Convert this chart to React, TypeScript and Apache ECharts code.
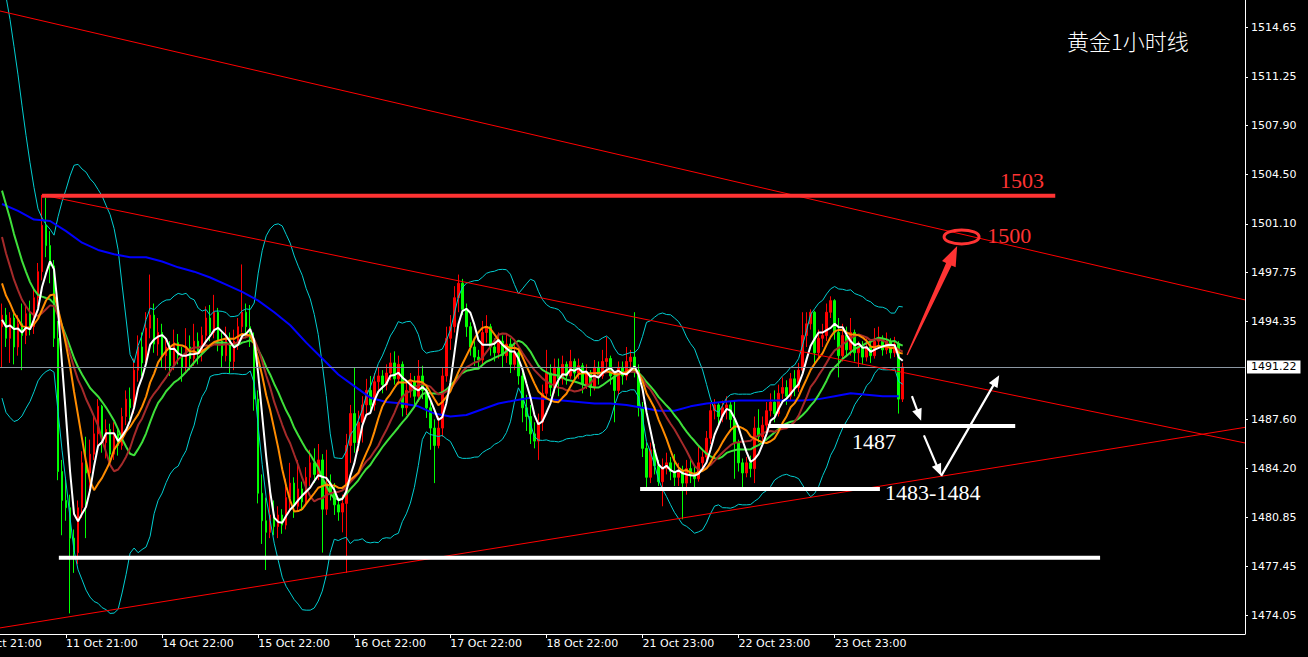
import React, { useEffect, useRef } from 'react';
import * as echarts from 'echarts';

// ---- Data (hourly XAUUSD bars) ----
// closes of the hours just before the visible window (only feed the moving averages)
const warmupCloses = [
  1512.4, 1513.8, 1514.2, 1512.6, 1512.0,
  1510.0, 1508.2, 1506.4, 1505.0, 1503.4,
  1501.6, 1500.0, 1499.2, 1498.6, 1498.1,
  1495.6, 1494.2, 1493.8, 1494.0,
];

const closes = [
  1494.8, 1493.2, 1494.6, 1492.6, 1494.2, 1493.4, 1494.9, 1494.0, 1496.0, 1497.8,
  1501.0, 1499.6, 1498.2, 1493.2, 1484.0, 1482.0, 1481.5, 1479.4, 1478.4, 1481.5,
  1484.6, 1483.9, 1485.2, 1486.6, 1488.5, 1486.0, 1486.9, 1485.2, 1486.6, 1485.8,
  1487.8, 1489.0, 1488.4, 1491.0, 1492.6, 1491.5, 1493.9, 1494.8, 1492.8, 1493.6,
  1492.0, 1492.6, 1491.3, 1492.9, 1492.0, 1491.2, 1492.6, 1491.8, 1493.0, 1492.2,
  1493.4, 1494.6, 1493.6, 1495.0, 1493.0, 1492.0, 1493.2, 1491.6, 1493.0, 1494.0,
  1495.0, 1494.0, 1493.2, 1489.0, 1482.5, 1480.6, 1479.8, 1481.0, 1480.2, 1481.0,
  1480.3, 1482.2, 1483.2, 1481.6, 1482.8, 1481.9, 1483.6, 1484.6, 1483.8, 1484.8,
  1481.4, 1483.2, 1482.6, 1481.7, 1481.2, 1481.8, 1485.8, 1488.0, 1486.0, 1487.4,
  1488.6, 1489.6, 1488.6, 1490.2, 1490.6, 1490.0, 1490.8, 1491.5, 1490.4, 1491.4,
  1488.4, 1489.6, 1490.2, 1489.2, 1490.6, 1489.6, 1488.4, 1487.0, 1485.8, 1487.0,
  1490.6, 1493.2, 1494.0, 1496.0, 1497.0, 1495.2, 1494.0, 1492.6, 1491.9, 1491.7,
  1493.6, 1494.0, 1492.6, 1492.2, 1493.0, 1492.0, 1492.8, 1491.4, 1492.2, 1490.6,
  1488.4, 1487.8, 1486.6, 1486.1, 1487.4, 1489.4, 1490.8, 1489.8, 1491.2, 1490.4,
  1491.4, 1490.6, 1491.6, 1490.8, 1491.3, 1490.0, 1490.8, 1489.8, 1491.2, 1490.6,
  1491.6, 1491.8, 1490.6, 1489.6, 1491.2, 1490.6, 1491.6, 1491.9, 1491.0, 1488.4,
  1485.6, 1483.6, 1485.5, 1484.4, 1483.3, 1484.2, 1484.6, 1484.0, 1483.6, 1484.0,
  1483.2, 1484.2, 1483.7, 1483.5, 1484.6, 1485.0, 1486.3, 1488.2, 1488.6, 1487.8,
  1488.4, 1488.6, 1487.6, 1486.0, 1484.6, 1483.9, 1484.6, 1484.2, 1487.0, 1486.4,
  1487.2, 1488.2, 1488.8, 1488.0, 1489.4, 1489.8, 1489.2, 1490.4, 1489.8, 1491.0,
  1493.4, 1494.2, 1495.0, 1492.2, 1493.2, 1493.4, 1495.0, 1495.8, 1493.6, 1492.0,
  1493.4, 1492.4, 1493.6, 1492.2, 1492.6, 1491.9, 1492.6, 1492.0, 1493.0, 1493.2,
  1492.4, 1493.0, 1492.2, 1492.8, 1489.0, 1491.22,
];

const highs = [
  1495.6, 1495.3, 1495.0, 1494.9, 1494.8, 1495.6, 1495.4, 1495.8, 1496.6, 1498.4,
  1503.1, 1502.9, 1500.6, 1498.6, 1494.4, 1484.8, 1483.6, 1482.4, 1480.0, 1482.0,
  1485.4, 1486.4, 1486.2, 1487.8, 1489.0, 1488.6, 1487.6, 1487.3, 1487.4, 1487.0,
  1488.4, 1489.6, 1489.8, 1491.8, 1493.4, 1493.6, 1495.0, 1497.6, 1495.6, 1494.6,
  1494.2, 1493.3, 1493.0, 1493.8, 1493.5, 1492.6, 1493.9, 1493.4, 1494.2, 1493.6,
  1494.0, 1495.4, 1495.5, 1496.2, 1495.3, 1493.6, 1494.0, 1493.6, 1493.8, 1494.6,
  1498.3, 1495.6, 1495.5, 1493.6, 1489.6, 1483.8, 1482.2, 1483.2, 1482.0, 1481.6,
  1481.4, 1483.5, 1484.6, 1483.6, 1484.8, 1483.3, 1484.3, 1485.5, 1485.6, 1485.9,
  1485.2, 1485.5, 1483.8, 1483.2, 1482.2, 1482.4, 1486.6, 1488.6, 1491.2, 1488.2,
  1489.2, 1490.4, 1490.6, 1490.8, 1491.2, 1491.0, 1491.4, 1492.2, 1492.3, 1492.0,
  1491.6, 1490.2, 1490.8, 1490.6, 1491.7, 1491.3, 1490.0, 1488.8, 1487.6, 1487.8,
  1491.2, 1494.0, 1494.8, 1496.8, 1497.6, 1497.3, 1495.6, 1494.3, 1493.0, 1492.4,
  1494.4, 1494.8, 1494.2, 1493.2, 1493.6, 1493.4, 1493.5, 1493.2, 1492.8, 1492.4,
  1491.0, 1489.3, 1488.6, 1487.4, 1488.0, 1490.0, 1492.4, 1491.4, 1491.8, 1491.8,
  1492.0, 1491.6, 1492.4, 1491.8, 1491.8, 1491.5, 1491.4, 1491.0, 1491.7, 1491.6,
  1492.4, 1493.3, 1492.0, 1490.9, 1491.6, 1491.6, 1492.6, 1492.4, 1495.0, 1491.4,
  1488.8, 1486.0, 1486.0, 1485.9, 1484.8, 1484.9, 1485.3, 1485.0, 1485.2, 1484.6,
  1484.4, 1484.8, 1484.9, 1484.4, 1485.7, 1485.4, 1486.8, 1488.8, 1489.0, 1488.8,
  1488.9, 1489.2, 1488.8, 1488.9, 1486.2, 1484.9, 1485.0, 1485.1, 1487.8, 1488.3,
  1487.8, 1488.8, 1489.4, 1489.6, 1490.0, 1490.5, 1490.3, 1490.8, 1491.0, 1491.5,
  1495.0, 1495.0, 1495.2, 1495.1, 1493.8, 1494.2, 1495.6, 1496.1, 1495.9, 1494.6,
  1494.2, 1494.0, 1494.6, 1493.8, 1493.0, 1493.0, 1493.2, 1492.9, 1493.9, 1494.0,
  1493.4, 1493.6, 1493.2, 1493.3, 1493.0, 1491.5,
];

const lows = [
  1491.2, 1492.6, 1491.5, 1491.4, 1492.0, 1491.0, 1492.8, 1493.4, 1493.5, 1495.4,
  1497.2, 1498.8, 1497.0, 1492.6, 1483.4, 1479.6, 1480.6, 1474.2, 1477.0, 1477.6,
  1480.8, 1479.4, 1482.4, 1484.8, 1485.8, 1485.3, 1484.9, 1484.6, 1484.8, 1485.1,
  1485.5, 1487.2, 1487.6, 1488.0, 1490.2, 1490.6, 1491.2, 1493.2, 1492.2, 1492.0,
  1491.2, 1491.0, 1490.6, 1491.0, 1491.4, 1490.2, 1490.8, 1491.0, 1491.3, 1491.4,
  1491.6, 1492.8, 1493.0, 1493.2, 1492.3, 1491.2, 1491.6, 1490.8, 1491.0, 1492.4,
  1493.6, 1493.2, 1492.6, 1488.2, 1481.8, 1479.0, 1477.2, 1479.4, 1479.6, 1479.4,
  1479.7, 1480.0, 1481.4, 1480.8, 1481.2, 1481.3, 1481.6, 1483.0, 1483.2, 1483.4,
  1478.4, 1481.0, 1482.0, 1481.0, 1480.6, 1479.8, 1477.0, 1484.6, 1485.3, 1485.4,
  1486.0, 1488.0, 1488.0, 1488.2, 1489.6, 1489.4, 1489.6, 1490.3, 1490.0, 1490.0,
  1487.8, 1487.9, 1489.1, 1488.6, 1488.8, 1489.0, 1487.7, 1485.5, 1483.2, 1485.6,
  1486.4, 1490.2, 1492.4, 1493.6, 1495.0, 1494.8, 1493.3, 1492.0, 1491.3, 1491.2,
  1491.4, 1492.9, 1492.0, 1491.6, 1491.8, 1491.2, 1491.5, 1490.8, 1491.0, 1490.0,
  1487.4, 1486.8, 1485.9, 1485.6, 1484.8, 1486.8, 1489.0, 1489.2, 1489.4, 1489.2,
  1490.0, 1490.0, 1490.4, 1490.2, 1490.4, 1489.4, 1489.7, 1489.2, 1489.6, 1490.0,
  1490.4, 1490.9, 1490.0, 1487.4, 1489.3, 1490.0, 1490.3, 1491.0, 1490.5, 1487.8,
  1485.0, 1482.8, 1483.2, 1483.8, 1483.0, 1481.6, 1483.8, 1483.4, 1483.0, 1483.0,
  1480.7, 1482.4, 1483.2, 1482.9, 1483.3, 1484.0, 1484.6, 1485.9, 1487.6, 1487.2,
  1487.4, 1487.6, 1487.0, 1483.5, 1484.0, 1482.8, 1483.6, 1483.6, 1483.2, 1486.0,
  1486.0, 1486.8, 1487.8, 1487.4, 1487.8, 1489.0, 1488.6, 1488.9, 1489.2, 1489.5,
  1490.8, 1492.6, 1493.8, 1491.4, 1491.8, 1492.6, 1493.0, 1494.6, 1493.1, 1490.5,
  1491.6, 1491.9, 1492.0, 1491.6, 1491.2, 1491.4, 1491.6, 1491.5, 1491.8, 1492.6,
  1492.0, 1492.1, 1491.8, 1491.9, 1488.0, 1488.8,
];

// long (blue) moving average, one reading every 4 bars
const blueMA = [
  1502.47, 1502.0, 1501.4, 1501.3, 1500.6, 1499.8, 1499.3, 1499.0, 1498.8, 1498.8,
  1498.5, 1498.1, 1497.8, 1497.4, 1496.9, 1496.4, 1495.8, 1495.0, 1494.1, 1492.9,
  1491.8, 1490.7, 1489.9, 1489.1, 1488.8, 1488.7, 1488.5, 1488.0, 1487.8, 1487.9,
  1488.3, 1488.7, 1488.9, 1489.1, 1489.0, 1488.9, 1488.8, 1488.7, 1488.7, 1488.6,
  1488.4, 1488.2, 1488.2, 1488.5, 1488.7, 1488.8, 1488.9, 1488.9, 1488.9, 1488.9,
  1488.9, 1489.0, 1489.2, 1489.4, 1489.3, 1489.2, 1489.2,
];
const BLUE_STEP = 4;

// moving-average periods: white, orange, brown, green; Bollinger period
const maPeriods = [5, 10, 15, 20];
const BB_PERIOD = 20;

const xTickLabels = [
  '11 Oct 21:00', '14 Oct 22:00', '15 Oct 22:00', '16 Oct 22:00', '17 Oct 22:00',
  '18 Oct 22:00', '21 Oct 23:00', '22 Oct 23:00', '23 Oct 23:00',
];
const hiddenFirstLabel = '10 Oct 21:00';
const FIRST_TICK_BAR = 16;
const BARS_PER_DAY = 24;
const SLOTS = 311;

const yTickValues = [
  1474.05, 1477.45, 1480.85, 1484.2, 1487.6, 1494.35, 1497.75, 1501.1, 1504.5,
  1507.9, 1511.25, 1514.65,
];
const Y_MIN = 1472.78;
const Y_MAX = 1516.56;
const lastPrice = 1491.22;

// drawn objects (bar index, price)
const trendLines = [
  [[-0.5, 1515.8], [310.5, 1495.85]],
  [[10, 1503.1], [310.5, 1485.97]],
  [[-0.5, 1473.2], [310.5, 1487.05]],
];
const levelLines = [
  { price: 1503.05, from: 10, to: 263.1, color: '#ff3333' },
  { price: 1478.05, from: 14.2, to: 274.3, color: '#ffffff' },
  { price: 1482.8, from: 159.4, to: 219.3, color: '#ffffff' },
  { price: 1487.15, from: 191.4, to: 253.1, color: '#ffffff' },
];
const notes = [
  { text: '1503', bar: 249.3, price: 1504.1, color: '#ff3333' },
  { text: '1500', bar: 246.1, price: 1500.3, color: '#ff3333' },
  { text: '1487', bar: 212.3, price: 1486.1, color: '#ffffff' },
  { text: '1483-1484', bar: 220.6, price: 1482.55, color: '#ffffff' },
];
const arrows = [
  { from: [226.1, 1492.05], to: [238.6, 1499.57], color: '#ff3333', bold: true },
  { from: [227.3, 1489.2], to: [229.6, 1487.5], color: '#ffffff', bold: false },
  { from: [230.3, 1486.5], to: [234.6, 1483.7], color: '#ffffff', bold: false },
  { from: [234.6, 1483.7], to: [249.1, 1490.65], color: '#ffffff', bold: false },
];
const target = { bar: 239.7, price: 1500.2 };
const title = '黄金1小时线';

function sma(src: number[], period: number, offset: number, count: number) {
  const out: (number | null)[] = [];
  for (let i = 0; i < count; i++) {
    const j = i + offset;
    const s0 = j - period + 1;
    if (s0 < 0) { out.push(null); continue; }
    let s = 0;
    for (let q = s0; q <= j; q++) s += src[q];
    out.push(s / period);
  }
  return out;
}

function bollinger(src: number[], period: number, k: number, offset: number, count: number) {
  const up: (number | null)[] = [];
  const lo: (number | null)[] = [];
  for (let i = 0; i < count; i++) {
    const j = i + offset;
    const s0 = j - period + 1;
    if (s0 < 0) { up.push(null); lo.push(null); continue; }
    let m = 0;
    for (let q = s0; q <= j; q++) m += src[q];
    m /= period;
    let v = 0;
    for (let q = s0; q <= j; q++) v += (src[q] - m) * (src[q] - m);
    const sd = Math.sqrt(v / period);
    up.push(m + k * sd);
    lo.push(m - k * sd);
  }
  return [up, lo];
}

function arrowPoly(s: number[], t: number[], tailHalf: number, shaftHalf: number, headLen: number, headHalf: number) {
  const dx = t[0] - s[0];
  const dy = t[1] - s[1];
  const L = Math.hypot(dx, dy) || 1;
  const ux = dx / L, uy = dy / L;
  const nx = -uy, ny = ux;
  const bx = t[0] - ux * headLen, by = t[1] - uy * headLen;
  return [
    [s[0] + nx * tailHalf, s[1] + ny * tailHalf],
    [bx + nx * shaftHalf, by + ny * shaftHalf],
    [bx + nx * headHalf, by + ny * headHalf],
    [t[0], t[1]],
    [bx - nx * headHalf, by - ny * headHalf],
    [bx - nx * shaftHalf, by - ny * shaftHalf],
    [s[0] - nx * tailHalf, s[1] - ny * tailHalf],
  ];
}

export default function App() {
  const ref = useRef<HTMLDivElement>(null);

  useEffect(() => {
    const el = ref.current;
    if (!el) return;
    const chart = echarts.init(el, null, { renderer: 'svg' });

    const n = closes.length;
    const off = warmupCloses.length;
    const all = [...warmupCloses, ...closes];
    const candleData = closes.map((c, i) => [
      i === 0 ? warmupCloses[off - 1] : closes[i - 1], c, lows[i], highs[i],
    ]);
    const [maW, maO, maB, maG] = maPeriods.map((p) => sma(all, p, off, n));
    const [bbUp, bbLo] = bollinger(all, BB_PERIOD, 2, off, n);
    const blueData: (number | null)[] = closes.map((_, i) =>
      i % BLUE_STEP === 0 && blueMA[i / BLUE_STEP] !== undefined ? blueMA[i / BLUE_STEP] : null);

    const cats = Array.from({ length: SLOTS }, (_, i) => String(i));
    const isTick = (idx: number) =>
      idx >= FIRST_TICK_BAR && (idx - FIRST_TICK_BAR) % BARS_PER_DAY === 0 &&
      (idx - FIRST_TICK_BAR) / BARS_PER_DAY < xTickLabels.length;

    const lineS = (data: any[], color: string, width: number, z: number) => ({
      type: 'line', data, symbol: 'none', silent: true, connectNulls: true,
      lineStyle: { color, width }, itemStyle: { color }, z,
    });

    const series: any[] = [
      {
        type: 'candlestick', data: candleData, barWidth: 2, silent: true, z: 2,
        itemStyle: { color: '#ff0000', color0: '#00ff00', borderColor: '#ff0000', borderColor0: '#00ff00', borderWidth: 1 },
        markLine: {
          silent: true, symbol: ['none', 'none'], animation: false,
          data: [{ yAxis: lastPrice }],
          lineStyle: { color: '#8c98a4', width: 1, type: 'solid' },
          label: {
            show: true, position: 'end', distance: 2, formatter: lastPrice.toFixed(2),
            color: '#000000', backgroundColor: '#ffffff', padding: [1, 4, 1, 4],
            fontSize: 11, fontFamily: 'DejaVu Sans',
          },
        },
      },
      lineS(bbUp, '#00ced1', 1, 3),
      lineS(bbLo, '#00ced1', 1, 3),
      lineS(blueData, '#0000ff', 2, 4),
      lineS(maG, '#3ee03a', 2, 4),
      lineS(maB, '#a52a2a', 2, 4),
      lineS(maO, '#ff8c00', 2, 4),
      lineS(maW, '#ffffff', 2, 4),
    ];
    const trendIdx = series.length;
    trendLines.forEach((tl) => {
      series.push({ ...lineS(tl, '#ff0000', 1, 5), xAxisIndex: 1 });
    });
    levelLines.forEach((lv) => {
      series.push({ ...lineS([[lv.from, lv.price], [lv.to, lv.price]], lv.color, 4, 6), xAxisIndex: 1 });
    });

    chart.setOption({
      animation: false,
      backgroundColor: '#000000',
      textStyle: { fontFamily: 'DejaVu Sans' },
      grid: { left: 0, top: 0, right: 63, bottom: 23, containLabel: false },
      xAxis: [
        {
          type: 'category', data: cats, boundaryGap: true,
          axisLine: { show: true, onZero: false, lineStyle: { color: '#ffffff', width: 1 } },
          axisTick: { show: true, alignWithLabel: true, interval: (i: number) => isTick(i), length: 4, lineStyle: { color: '#ffffff' } },
          axisLabel: {
            interval: (i: number) => isTick(i),
            formatter: (v: string) => {
              const k = (Number(v) - FIRST_TICK_BAR) / BARS_PER_DAY;
              return xTickLabels[k] || '';
            },
            color: '#ffffff', fontSize: 11, fontFamily: 'DejaVu Sans', align: 'left', margin: 4,
          },
          splitLine: { show: false },
        },
        { type: 'value', min: -0.5, max: SLOTS - 0.5, show: false },
      ],
      yAxis: {
        type: 'value', position: 'right', min: Y_MIN, max: Y_MAX, scale: true,
        axisLine: { show: true, onZero: false, lineStyle: { color: '#ffffff', width: 1 } },
        axisTick: { show: true, length: 3, customValues: yTickValues, lineStyle: { color: '#ffffff' } },
        axisLabel: {
          customValues: yTickValues, color: '#ffffff', fontSize: 11, fontFamily: 'DejaVu Sans', margin: 6,
          formatter: (v: number) => v.toFixed(2),
        },
        splitLine: { show: false },
      },
      series,
    });

    const P = (b: number, p: number) =>
      chart.convertToPixel({ seriesIndex: trendIdx }, [b, p]) as unknown as number[];

    const graphics: any[] = [];
    arrows.forEach((a) => {
      const s = P(a.from[0], a.from[1]);
      const t = P(a.to[0], a.to[1]);
      const pts = a.bold ? arrowPoly(s, t, 0.6, 3, 20, 7.5) : arrowPoly(s, t, 1.1, 1.1, 12, 5);
      graphics.push({ type: 'polygon', shape: { points: pts }, style: { fill: a.color }, z: 100, silent: true });
    });
    const c = P(target.bar, target.price);
    graphics.push({
      type: 'ellipse', shape: { cx: c[0], cy: c[1], rx: 17.5, ry: 7 },
      style: { fill: 'none', stroke: '#ff3333', lineWidth: 3 }, z: 100, silent: true,
    });
    notes.forEach((nt) => {
      const q = P(nt.bar, nt.price);
      graphics.push({
        type: 'text', x: q[0], y: q[1], z: 100, silent: true,
        style: {
          text: nt.text, fill: nt.color, fontSize: 22, fontFamily: '"Liberation Serif", serif',
          align: 'left', verticalAlign: 'middle', textAlign: 'left', textVerticalAlign: 'middle',
        },
      });
    });
    const first = P(FIRST_TICK_BAR - BARS_PER_DAY, Y_MIN);
    graphics.push({
      type: 'text', x: first[0], y: first[1] + 4, z: 100, silent: true,
      style: {
        text: hiddenFirstLabel, fill: '#ffffff', fontSize: 11, fontFamily: 'DejaVu Sans',
        align: 'left', verticalAlign: 'top', textAlign: 'left', textVerticalAlign: 'top',
      },
    });
    graphics.push({
      type: 'text', x: 1067, y: 40, z: 100, silent: true,
      style: {
        text: title, fill: '#ffffff', fontSize: 22, fontFamily: '"Noto Sans CJK SC", sans-serif',
        fontWeight: 300,
        align: 'left', verticalAlign: 'middle', textAlign: 'left', textVerticalAlign: 'middle',
      },
    });
    chart.setOption({ graphic: graphics });

    return () => chart.dispose();
  }, []);

  return (
    <div
      ref={ref}
      style={{ position: 'fixed', left: 0, top: 0, width: 1308, height: 657, background: '#000000' }}
    />
  );
}
